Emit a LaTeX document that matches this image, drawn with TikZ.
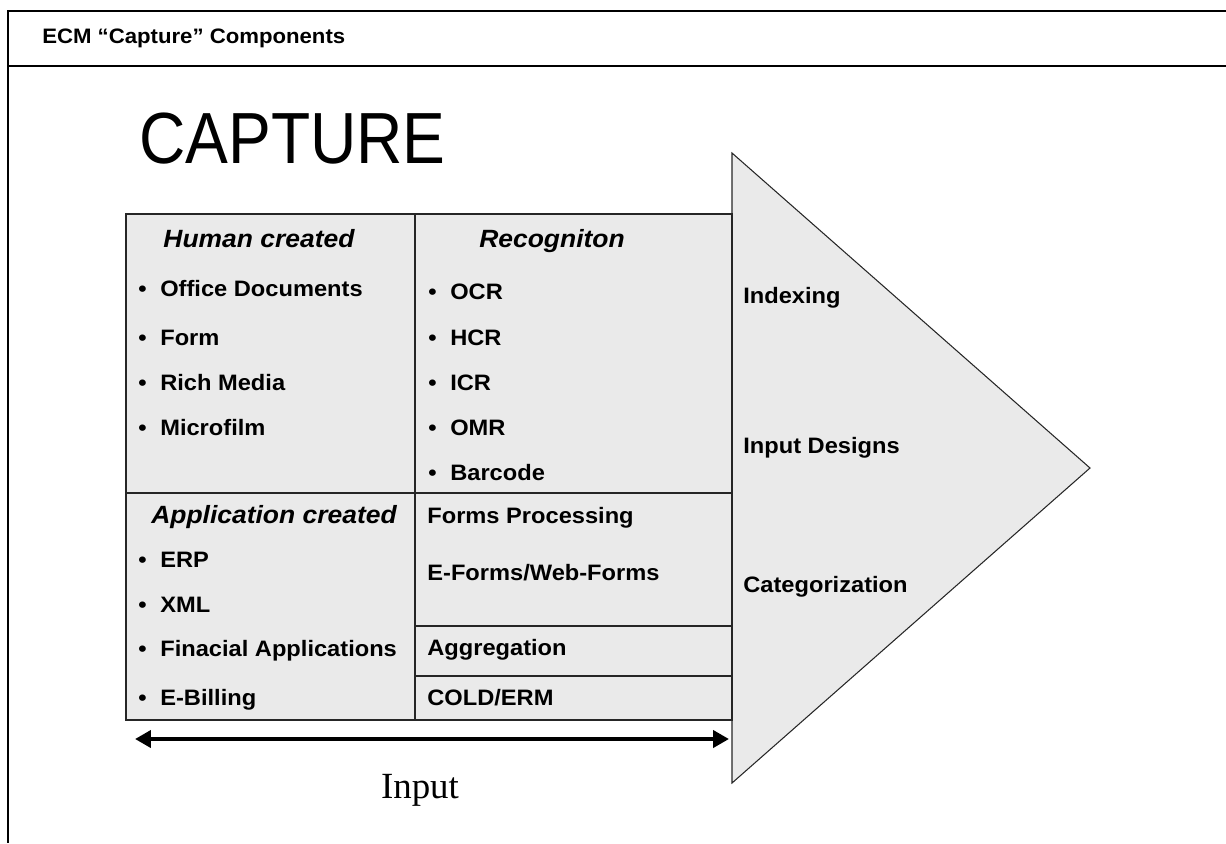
\documentclass[tikz,border=0pt]{standalone}
\usepackage{fontspec}
\setmainfont{Liberation Sans}[FakeStretch=1.06]
\newfontfamily\capfont{Liberation Sans}
\newfontfamily\serfont{Liberation Serif}
\usetikzlibrary{arrows.meta,positioning}

\definecolor{panelgray}{HTML}{EAEAEA}
\newcommand{\bul}{\makebox[12.5pt][l]{\textbullet}}

\begin{document}
\begin{tikzpicture}[x=0.02cm,y=-0.02cm,
	item/.style={anchor=west,inner sep=0pt,text height=9.1pt,text depth=0pt,
		font=\fontsize{12.7}{15}\selectfont\bfseries},
	head/.style={inner sep=0pt,text height=10.2pt,text depth=0pt,
		font=\fontsize{14.2}{17}\selectfont\bfseries\itshape},
	frame/.style={line width=1.1pt},
	cell/.style={draw=black!85,line width=0.6pt}]
	\useasboundingbox (0,0) rectangle (1226,843);

	% outer frame and title bar
	\draw[frame] (1226,11) -- (8,11) -- (8,843);
	\draw[frame] (8,66) -- (1226,66);
	\node (title) [anchor=west,inner sep=0pt,text height=8.5pt,text depth=0pt,
		font=\fontsize{11.9}{14}\selectfont\bfseries] at (42,36) {ECM “Capture” Components};

	\node (capture) [anchor=west,inner sep=0pt] at (139,139)
		{\scalebox{1}[1.13]{\capfont\fontsize{36.5}{40}\selectfont CAPTURE}};

	% arrow shape and table
	\draw[cell,fill=panelgray] (732,153) -- (1090,468) -- (732,783) -- cycle;
	\draw[cell,fill=panelgray] (126,214) rectangle (732,720);
	\draw[cell] (415,214) -- (415,720);
	\draw[cell] (126,493) -- (732,493);
	\draw[cell] (415,626) -- (732,626);
	\draw[cell] (415,676) -- (732,676);

	% human created
	\path (259,239) node (human) [head] {Human created}
		  (138,288) node (office) [item] {\bul Office Documents}
		  (138,337) node (form) [item] {\bul Form}
		  (138,382) node (rich) [item] {\bul Rich Media}
		  (138,427) node (micro) [item] {\bul Microfilm};

	% recognition
	\path (552,239) node (recog) [head] {Recogniton}
		  (428,291) node (ocr) [item] {\bul OCR}
		  (428,337) node (hcr) [item] {\bul HCR}
		  (428,382) node (icr) [item] {\bul ICR}
		  (428,427) node (omr) [item] {\bul OMR}
		  (428,472) node (barcode) [item] {\bul Barcode};

	% application created
	\path (274,515) node (appl) [head] {Application created}
		  (138,559) node (erp) [item] {\bul ERP}
		  (138,604) node (xml) [item] {\bul XML}
		  (138,648) node (fin) [item] {\bul Finacial Applications}
		  (138,697) node (bill) [item] {\bul E-Billing};

	% right column
	\path (427,515) node (formsproc) [item] {Forms Processing}
		  (427,572) node (eforms) [item] {E-Forms/Web-Forms}
		  (427,647) node (aggr) [item] {Aggregation}
		  (427,697) node (cold) [item] {COLD/ERM};

	% inside the arrow head
	\path (743,295) node (index) [item] {Indexing}
		  (743,445) node (design) [item] {Input Designs}
		  (743,584) node (categ) [item] {Categorization};

	% input span
	\coordinate (inL) at (135,739);
	\coordinate (inR) at (729,739);
	\draw[{Triangle[length=0.32cm,width=0.34cm]}-{Triangle[length=0.32cm,width=0.34cm]},
		line width=0.08cm] (inL) -- (inR);
	\node (input) [anchor=base,inner sep=0pt,font=\serfont\fontsize{21}{24}\selectfont]
		at (420,798) {Input};
\end{tikzpicture}
\end{document}
